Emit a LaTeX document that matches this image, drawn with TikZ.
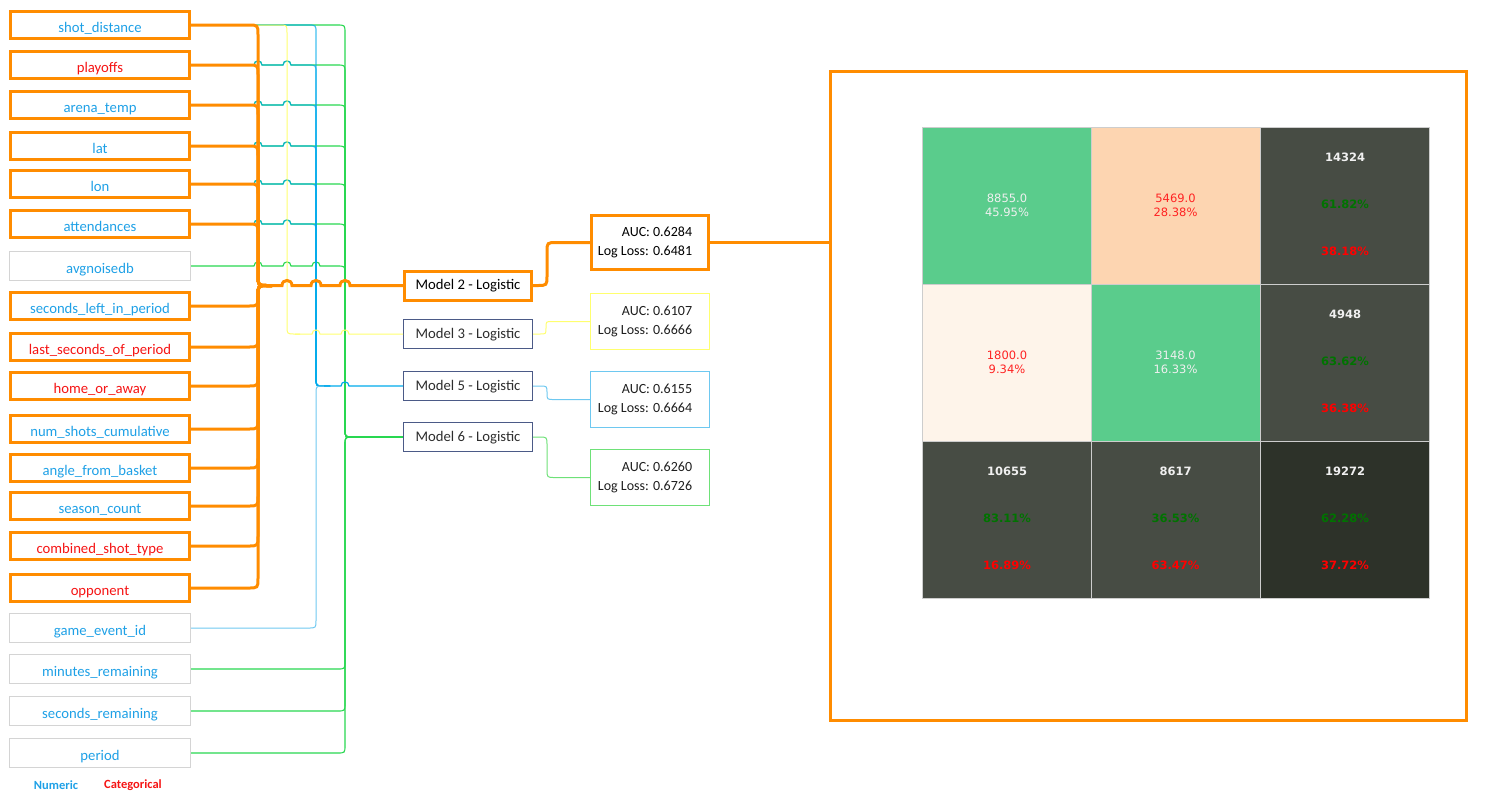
\documentclass[tikz,border=0pt]{standalone}
\usepackage{fontspec}
\setmainfont{Carlito}
\newfontfamily\dv{DejaVu Sans}
\definecolor{orng}{RGB}{255,140,0}
\definecolor{fblue}{RGB}{30,160,230}
\definecolor{fred}{RGB}{245,20,20}
\definecolor{lyel}{RGB}{255,255,110}
\definecolor{lblue}{RGB}{0,170,235}
\definecolor{llblue}{RGB}{110,200,240}
\definecolor{lgreen}{RGB}{40,215,80}
\definecolor{navy}{RGB}{75,90,135}
\definecolor{boxgray}{RGB}{212,212,212}
\definecolor{cgreen}{RGB}{90,204,140}
\definecolor{cpeach}{RGB}{253,213,177}
\definecolor{ccream}{RGB}{254,244,234}
\definecolor{cdark}{RGB}{71,76,68}
\definecolor{cdarker}{RGB}{45,50,41}
\definecolor{tgreen}{RGB}{0,115,0}
\definecolor{tred}{RGB}{255,0,0}
\definecolor{twhite}{RGB}{240,240,240}
% bump (line jump) over a vertical line at x=#1, on horizontal y=#2, radius #3
\newcommand\bmp[3]{-- ({#1-#3},#2) .. controls ({#1-#3},{#2-1.35*#3}) and ({#1+#3},{#2-1.35*#3}) .. ({#1+#3},#2)}
% go right to x=#1 at y=#2, down to y=#3, then right to #5 ; corner radius #4
\newcommand\dn[5]{-- ({#1-#4},#2) .. controls (#1,#2) .. (#1,{#2+#4}) -- (#1,{#3-#4}) .. controls (#1,#3) .. ({#1+#4},#3) -- #5}
\newcommand\up[5]{-- ({#1-#4},#2) .. controls (#1,#2) .. (#1,{#2-#4}) -- (#1,{#3+#4}) .. controls (#1,#3) .. ({#1+#4},#3) -- #5}
\newcommand\rpad{\hspace*{10pt}}
\begin{document}
\begin{tikzpicture}[x=1pt,y=-1pt,
  featbase/.style={inner sep=0pt, text height=14pt, text depth=0pt, font=\fontsize{14.7}{17}\selectfont},
  feat/.style={featbase, draw=orng, line width=3pt, minimum width=179pt, minimum height=27pt},
  featg/.style={featbase, draw=boxgray, line width=1pt, minimum width=181pt, minimum height=29pt},
  num/.style={text=fblue},
  cat/.style={text=fred},
  modbase/.style={inner sep=0pt, text height=11pt, text depth=3pt, font=\fontsize{14.7}{17}\selectfont},
  modo/.style={modbase, draw=orng, line width=3pt, minimum width=127pt, minimum height=29pt, text=black},
  modn/.style={modbase, draw=navy, line width=1pt, minimum width=129pt, minimum height=29pt, text={rgb,255:red,45;green,45;blue,45}},
  res/.style={line width=1pt, minimum width=119pt, minimum height=56pt, inner sep=0pt, align=right, font=\fontsize{14}{18.4}\selectfont, text={rgb,255:red,30;green,30;blue,30}},
  oline/.style={draw=orng, line width=3pt},
  yline/.style={draw=lyel, line width=1pt},
  bline/.style={draw=lblue, line width=1.2pt},
  lbline/.style={draw=llblue, line width=1pt},
  gline/.style={draw=lgreen, line width=1.1pt},
  cell/.style={draw={rgb,255:red,205;green,205;blue,205}, line width=0.8pt, minimum width=169pt, minimum height=157pt, inner sep=0pt},
  mtxt/.style={font=\dv\fontsize{11.5}{14}\selectfont, align=center},
  btxt/.style={font=\dv\bfseries\fontsize{11.5}{14}\selectfont}
]
\useasboundingbox (0,0) rectangle (1498,807);

% feature boxes
\node[feat,num]  (f0)  at (100,25)  {shot\_distance};
\node[feat,cat]  (f1)  at (100,65)  {playoffs};
\node[feat,num]  (f2)  at (100,105) {arena\_temp};
\node[feat,num]  (f3)  at (100,146) {lat};
\node[feat,num]  (f4)  at (100,184) {lon};
\node[feat,num]  (f5)  at (100,224) {attendances};
\node[featg,num] (f6)  at (100,266) {avgnoisedb};
\node[feat,num]  (f7)  at (100,306) {seconds\_left\_in\_period};
\node[feat,cat]  (f8)  at (100,347) {last\_seconds\_of\_period};
\node[feat,cat]  (f9)  at (100,386) {home\_or\_away};
\node[feat,num]  (f10) at (100,429) {num\_shots\_cumulative};
\node[feat,num]  (f11) at (100,468) {angle\_from\_basket};
\node[feat,num]  (f12) at (100,506) {season\_count};
\node[feat,cat]  (f13) at (100,546) {combined\_shot\_type};
\node[feat,cat]  (f14) at (100,588) {opponent};
\node[featg,num] (f15) at (100,628) {game\_event\_id};
\node[featg,num] (f16) at (100,669) {minutes\_remaining};
\node[featg,num] (f17) at (100,711) {seconds\_remaining};
\node[featg,num] (f18) at (100,753) {period};

\node[font=\bfseries\fontsize{12.5}{14}\selectfont, text=fblue] (lnum) at (56,785) {Numeric};
\node[font=\bfseries\fontsize{12.5}{14}\selectfont, text=fred] (lcat) at (133,785) {Categorical};

% model boxes
\node[modo] (m2) at (468,285.5) {Model 2 - Logistic};
\node[modn] (m3) at (468,334) {Model 3 - Logistic};
\node[modn] (m5) at (468,386) {Model 5 - Logistic};
\node[modn] (m6) at (468,437) {Model 6 - Logistic};

% result boxes
\node[res, draw=orng, line width=3pt, minimum width=117pt, minimum height=54pt, text=black] (r2) at (650,242.5) {AUC: 0.6284\rpad\\Log Loss: 0.6481\rpad};
\node[res, draw=lyel] (r3) at (650,321.5) {AUC: 0.6107\rpad\\Log Loss: 0.6666\rpad};
\node[res, draw=llblue] (r5) at (650,399.5) {AUC: 0.6155\rpad\\Log Loss: 0.6664\rpad};
\node[res, draw={rgb,255:red,110;green,225;blue,120}] (r6) at (650,477.5) {AUC: 0.6260\rpad\\Log Loss: 0.6726\rpad};

% big frame
\node[draw=orng, line width=3pt, minimum width=636pt, minimum height=649pt, inner sep=0pt] (big) at (1148.5,396) {};

% ---------- thin connectors ----------
% green (Model 6)
\draw[gline] (f0.east) \dn{345}{25}{437}{8}{(360,437)};
\foreach \f/\y in {f1/65,f2/105,f3/146,f4/184,f5/224}{
  \draw[gline] (\f.east) \bmp{258}{\y}{4} \bmp{287}{\y}{4} \dn{345}{\y}{437}{8}{(360,437)};
}
\draw[gline] (f6.east) \bmp{258}{266}{4} \bmp{287}{266}{4} \bmp{316}{266}{4} \dn{345}{266}{437}{8}{(360,437)};
\foreach \f/\y in {f16/669,f17/711,f18/753}{
  \draw[gline] (\f.east) \up{345}{\y}{437}{8}{(360,437)};
}
\draw[gline] (355,437) -- (m6.west);
% blue (Model 5)
\draw[bline, opacity=0.75] (f0.east) \dn{316}{25}{386}{8}{(330,386)};
\foreach \f/\y in {f1/65,f2/105,f3/146,f4/184,f5/224}{
  \draw[bline, opacity=0.75] (\f.east) \bmp{258}{\y}{4} \bmp{287}{\y}{4} \dn{316}{\y}{386}{8}{(330,386)};
}
\draw[lbline] (f15.east) \up{316}{628}{386}{8}{(330,386)};
\draw[bline] (324,386) \bmp{345}{386}{4} -- (m5.west);
% yellow (Model 3)
\draw[yline] (f0.east) \dn{287}{25}{334}{8}{(300,334)};
\draw[yline] (295,334) \bmp{316}{334}{4} \bmp{345}{334}{4} -- (m3.west);

% ---------- orange connectors (Model 2) ----------
\foreach \f/\y in {f0/25,f1/65,f2/105,f3/146,f4/184,f5/224}{
  \draw[oline] (\f.east) \dn{258}{\y}{285.5}{10}{(272,285.5)};
}
\foreach \f/\y in {f7/306,f8/347,f9/386,f10/429,f11/468,f12/506,f13/546,f14/588}{
  \draw[oline] (\f.east) \up{258}{\y}{285.5}{10}{(272,285.5)};
}
\draw[oline] (266,285.5) \bmp{287}{285.5}{5} \bmp{316}{285.5}{5} \bmp{345}{285.5}{5} -- (m2.west);

% model -> result
\draw[oline] (m2.east) -- (537,285.5) .. controls (547,285.5) .. (547,275.5) -- (547,252) .. controls (547,242.5) .. (557,242.5) -- (r2.west);
\draw[yline] (m3.east) -- (540,334) .. controls (546,334) .. (546,328) -- (546,327.5) .. controls (546,321.5) .. (552,321.5) -- (r3.west);
\draw[lbline] (m5.east) -- (540,386) .. controls (547,386) .. (547,393) -- (547,393) .. controls (547,399.5) .. (554,399.5) -- (r5.west);
\draw[draw={rgb,255:red,110;green,225;blue,120}, line width=1pt] (m6.east) -- (539,437) .. controls (547,437) .. (547,445) -- (547,469.5) .. controls (547,477.5) .. (555,477.5) -- (r6.west);
\draw[oline] (r2.east) -- (r2.east -| big.west);

% ---------- confusion matrix ----------
\node[cell, fill=cgreen, mtxt, text=twhite] (c00) at (1007,205.5) {8855.0\\45.95\%};
\node[cell, fill=cpeach, mtxt, text={rgb,255:red,255;green,35;blue,35}] (c01) at (1175.5,205.5) {5469.0\\28.38\%};
\node[cell, fill=cdark] (c02) at (1345,205.5) {};
\node[cell, fill=ccream, mtxt, text={rgb,255:red,255;green,35;blue,35}] (c10) at (1007,362.5) {1800.0\\9.34\%};
\node[cell, fill=cgreen, mtxt, text=twhite] (c11) at (1175.5,362.5) {3148.0\\16.33\%};
\node[cell, fill=cdark] (c12) at (1345,362.5) {};
\node[cell, fill=cdark] (c20) at (1007,519.5) {};
\node[cell, fill=cdark] (c21) at (1175.5,519.5) {};
\node[cell, fill=cdarker] (c22) at (1345,519.5) {};

\node[btxt, text=twhite] (t02a) at (1345,157) {14324};
\node[btxt, text=tgreen] (t02b) at (1345,204) {61.82\%};
\node[btxt, text=tred]   (t02c) at (1345,251) {38.18\%};
\node[btxt, text=twhite] (t12a) at (1345,314) {4948};
\node[btxt, text=tgreen] (t12b) at (1345,361) {63.62\%};
\node[btxt, text=tred]   (t12c) at (1345,408) {36.38\%};
\node[btxt, text=twhite] (t20a) at (1007,471) {10655};
\node[btxt, text=tgreen] (t20b) at (1007,518) {83.11\%};
\node[btxt, text=tred]   (t20c) at (1007,565) {16.89\%};
\node[btxt, text=twhite] (t21a) at (1175.5,471) {8617};
\node[btxt, text=tgreen] (t21b) at (1175.5,518) {36.53\%};
\node[btxt, text=tred]   (t21c) at (1175.5,565) {63.47\%};
\node[btxt, text=twhite] (t22a) at (1345,471) {19272};
\node[btxt, text=tgreen] (t22b) at (1345,518) {62.28\%};
\node[btxt, text=tred]   (t22c) at (1345,565) {37.72\%};
\end{tikzpicture}
\end{document}
